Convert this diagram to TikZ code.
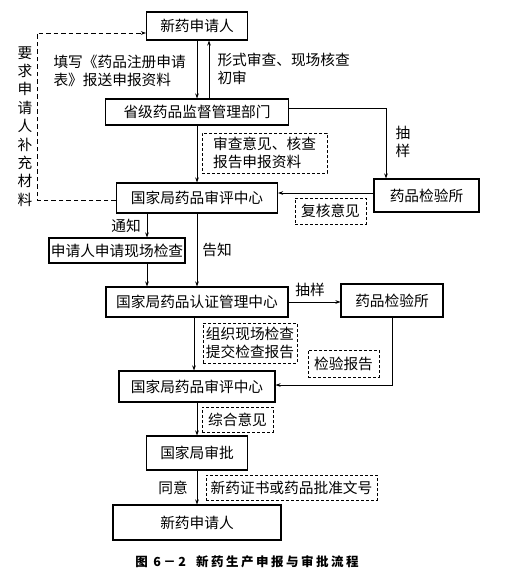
\documentclass[tikz,border=0pt]{standalone}
\usepackage{fontspec}
\setmainfont{Noto Sans CJK SC}
\usetikzlibrary{arrows.meta,positioning,calc}

\begin{document}
\begin{tikzpicture}[x=1pt,y=-1pt,>={Stealth[length=5pt,width=3.6pt]},
    font=\fontsize{14.7}{18}\selectfont,
    box/.style={draw,line width=1.1pt,inner sep=1pt},
    note/.style={draw,dash pattern=on 3pt off 2pt,line width=0.6pt,inner sep=2pt,align=left},
    flow/.style={->,line width=0.7pt}]
  \useasboundingbox (0,0) rectangle (506,575);
  % main column
  \node[box,minimum width=101pt,minimum height=28pt] (app1) at (197,26) {新药申请人};
  \node[box,minimum width=183pt,minimum height=26pt] (prov) at (197,112) {省级药品监督管理部门};
  \node[box,minimum width=161pt,minimum height=30pt] (cde1) at (197,198) {国家局药品审评中心};
  \node[box,minimum width=105pt,minimum height=33pt] (lab1) at (426.5,195.5) {药品检验所};
  \node[box,minimum width=136pt,minimum height=25pt] (site) at (117,250.5) {申请人申请现场检查};
  \node[box,minimum width=182pt,minimum height=30pt] (ccd) at (197,302) {国家局药品认证管理中心};
  \node[box,minimum width=102pt,minimum height=33pt] (lab2) at (392,300.5) {药品检验所};
  \node[box,minimum width=156pt,minimum height=31pt] (cde2) at (197,386.5) {国家局药品审评中心};
  \node[box,minimum width=101pt,minimum height=34pt] (appr) at (197,453) {国家局审批};
  \node[box,minimum width=168pt,minimum height=35pt] (app2) at (197,522.5) {新药申请人};
  % dashed notes
  \node[note,minimum width=125pt,minimum height=40pt] (n1) at (264.5,153) {审查意见、核查\\报告申报资料};
  \node[note,minimum width=71pt,minimum height=26pt] (n2) at (330.5,211) {复核意见};
  \node[note,minimum width=94pt,minimum height=40pt,inner sep=1pt] (n3) at (250,343) {组织现场检查\\提交检查报告};
  \node[note,minimum width=71pt,minimum height=27pt] (n4) at (343.5,363.5) {检验报告};
  \node[note,minimum width=71pt,minimum height=25pt] (n5) at (237.5,419.5) {综合意见};
  \node[note,minimum width=171pt,minimum height=25pt] (n6) at (291.5,487.5) {新药证书或药品批准文号};
  % plain labels
  \node[anchor=west,align=left] (fill) at (50,71) {填写《药品注册申请\\表》报送申报资料};
  \node[anchor=west,align=left] (form) at (214,68.5) {形式审查、现场核查\\初审};
  \node[align=center] (samp1) at (403,142) {抽\\样};
  \node (notify) at (126,226) {通知};
  \node (tell) at (217,250) {告知};
  \node (samp2) at (310,290) {抽样};
  \node (agree) at (173,488) {同意};
  \node[align=center,font=\fontsize{14.7}{18.4}\selectfont,inner sep=0pt] (ask) at (25,126.5)
       {要\\求\\申\\请\\人\\补\\充\\材\\料};
  \node[font=\fontsize{12.5}{14}\selectfont\bfseries\addfontfeature{LetterSpace=20}] (cap) at (247,562)
       {图 6－2\hspace{10pt}新药生产申报与审批流程};
  % connectors
  \coordinate (fb) at (37,33);
  \draw[flow] (app1.south) -- (app1.south |- prov.north);
  \draw[flow] ([xshift=12pt]prov.north) -- ([xshift=12pt]prov.north |- app1.south);
  \draw[flow] (prov.south) -- (cde1.north);
  \draw[flow] ([yshift=4pt]prov.east) -| ([xshift=-40.5pt]lab1.north);
  \draw[flow] ([yshift=2.5pt]lab1.west) -- ([yshift=2.5pt]lab1.west -| cde1.east);
  \draw[flow,dash pattern=on 4.5pt off 3pt] ([yshift=-2pt]cde1.west) -| (fb) -- (fb -| app1.west);
  \draw[flow] ([xshift=30pt]site.north |- cde1.south) -- ([xshift=30pt]site.north);
  \draw[flow] ([xshift=30pt]site.south) -- ([xshift=30pt]site.south |- ccd.north);
  \draw[flow] (cde1.south) -- (ccd.north);
  \draw[flow] (ccd.east) -- (ccd.east -| lab2.west);
  \draw[flow] ([xshift=-3pt]ccd.south) -- ([xshift=-3pt]ccd.south |- cde2.north);
  \draw[flow] (lab2.south) |- ([yshift=1.5pt]cde2.east);
  \draw[flow] (cde2.south) -- (appr.north);
  \draw[flow] (appr.south) -- (app2.north);
\end{tikzpicture}
\end{document}
